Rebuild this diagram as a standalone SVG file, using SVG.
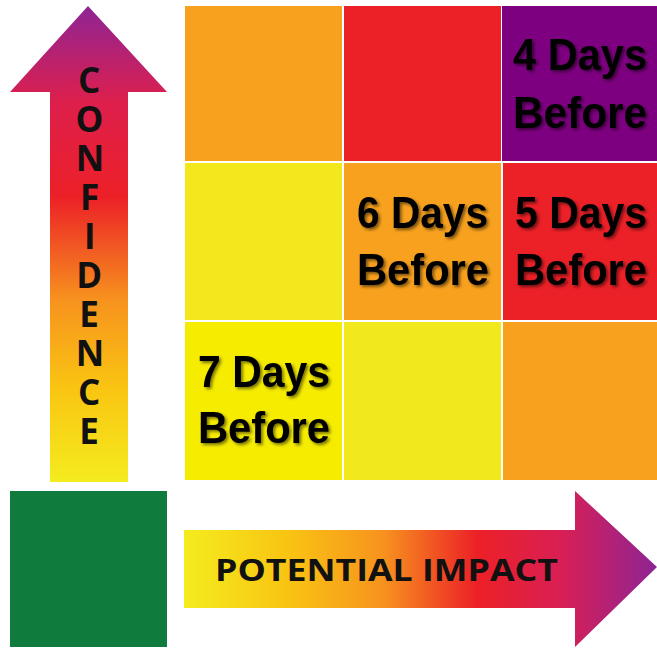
<svg xmlns="http://www.w3.org/2000/svg" width="657" height="650" viewBox="0 0 657 650">
<defs>
<linearGradient id="gv" x1="0" y1="482" x2="0" y2="6" gradientUnits="userSpaceOnUse">
<stop offset="0" stop-color="#f4ec1e"/>
<stop offset="0.2" stop-color="#f9c412"/>
<stop offset="0.38" stop-color="#f7931e"/>
<stop offset="0.6" stop-color="#ec2027"/>
<stop offset="0.8" stop-color="#dd1f4d"/>
<stop offset="1" stop-color="#8e2495"/>
</linearGradient>
<linearGradient id="gh" x1="184" y1="0" x2="657" y2="0" gradientUnits="userSpaceOnUse">
<stop offset="0" stop-color="#f4ec1e"/>
<stop offset="0.22" stop-color="#f9c412"/>
<stop offset="0.42" stop-color="#f7931e"/>
<stop offset="0.62" stop-color="#ec2027"/>
<stop offset="0.8" stop-color="#d81f55"/>
<stop offset="1" stop-color="#8e2495"/>
</linearGradient>
<filter id="sh" x="-10%" y="-20%" width="130%" height="150%">
<feDropShadow dx="2" dy="2" stdDeviation="1.5" flood-color="#000" flood-opacity="0.5"/>
</filter>
</defs>
<style>
.lbl{font-family:"Liberation Sans",Arial,sans-serif;font-weight:bold;font-size:44px;fill:#000;filter:url(#sh)}
.ax{font-family:"Open Sans","Liberation Sans",Arial,sans-serif;font-weight:bold;fill:#111}
.vert{writing-mode:vertical-rl;text-orientation:upright}
</style>
<rect width="657" height="650" fill="#fff"/>
<g id="grid">
<g id="c11"><rect x="185" y="6" width="157" height="155" fill="#f7a11e"/></g>
<g id="c12"><rect x="344" y="6" width="157" height="155" fill="#ec2027"/></g>
<g id="c13"><rect x="502" y="6" width="155" height="155" fill="#7d0080"/>
<text class="lbl" x="513" y="70" textLength="134" lengthAdjust="spacingAndGlyphs">4 Days</text>
<text class="lbl" x="513" y="128" textLength="134" lengthAdjust="spacingAndGlyphs">Before</text></g>
<g id="c21"><rect x="185" y="163" width="157" height="157" fill="#f2e81c"/></g>
<g id="c22"><rect x="344" y="163" width="157" height="157" fill="#f7a11e"/>
<text class="lbl" x="357" y="228" textLength="131" lengthAdjust="spacingAndGlyphs">6 Days</text>
<text class="lbl" x="357" y="285" textLength="132" lengthAdjust="spacingAndGlyphs">Before</text></g>
<g id="c23"><rect x="503" y="163" width="154" height="157" fill="#ec2027"/>
<text class="lbl" x="515" y="228" textLength="132" lengthAdjust="spacingAndGlyphs">5 Days</text>
<text class="lbl" x="515" y="285" textLength="132" lengthAdjust="spacingAndGlyphs">Before</text></g>
<g id="c31"><rect x="185" y="322" width="157" height="158" fill="#f5ec00"/>
<text class="lbl" x="198" y="387" textLength="132" lengthAdjust="spacingAndGlyphs">7 Days</text>
<text class="lbl" x="198" y="443" textLength="132" lengthAdjust="spacingAndGlyphs">Before</text></g>
<g id="c32"><rect x="344" y="322" width="157" height="158" fill="#f2e81e"/></g>
<g id="c33"><rect x="503" y="322" width="154" height="158" fill="#f7a11e"/></g>
</g>
<g id="confidence">
<polygon points="50,482 50,92 10,92 88,6 167,92 128,92 128,482" fill="url(#gv)"/>
<text class="ax vert" x="89" y="56" font-size="35" letter-spacing="-8">CONFIDENCE</text>
</g>
<g id="impact">
<polygon points="184,530 575,530 575,491 657,567 575,647 575,608 184,608" fill="url(#gh)"/>
<text class="ax" x="215" y="581" font-size="31" textLength="343" lengthAdjust="spacingAndGlyphs">POTENTIAL IMPACT</text>
</g>
<g id="green"><rect x="10" y="491" width="157" height="156" fill="#0f7c3e"/></g>
</svg>
